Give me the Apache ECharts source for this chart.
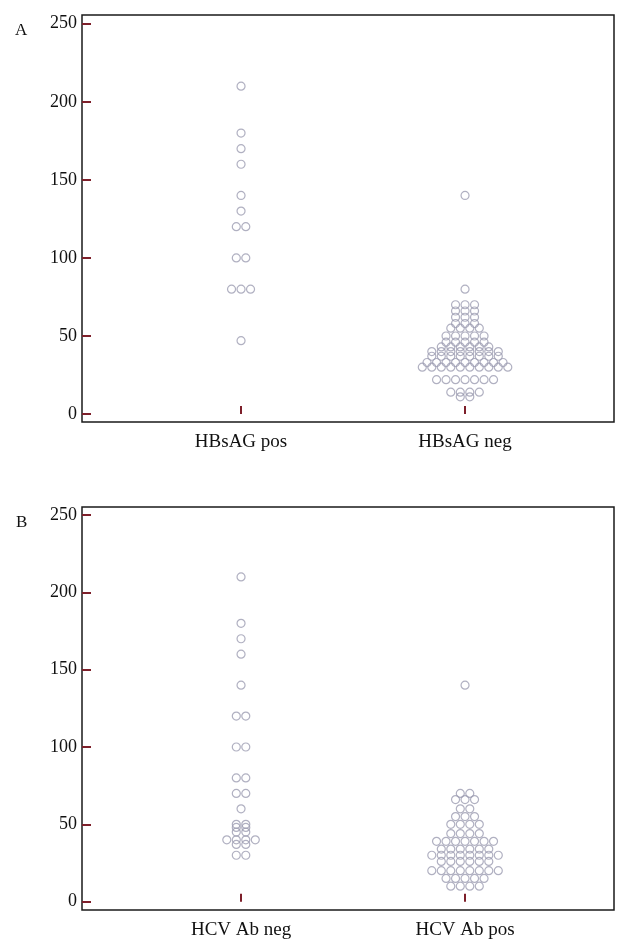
<!DOCTYPE html>
<html><head><meta charset="utf-8">
<script src="https://cdn.jsdelivr.net/npm/echarts@6/dist/echarts.min.js"></script>
<style>html,body{margin:0;padding:0;background:#fff}#c{width:619px;height:940px}</style>
</head><body><div id="c"></div>
<script>
const panelLabels = ['A', 'B'];
const catA = ['HBsAG pos', 'HBsAG neg'];
const catB = ['HCV Ab neg', 'HCV Ab pos'];
const yTicks = [0, 50, 100, 150, 200, 250];

// Panel A
const aPos = [210, 180, 170, 160, 140, 130, 120, 120, 100, 100, 80, 80, 80, 47];
const aNeg = [140, 80,
  70, 70, 70, 66, 66, 66, 62, 62, 62, 58, 58, 58,
  55, 55, 55, 55, 50, 50, 50, 50, 50, 46, 46, 46, 46, 46,
  43, 43, 43, 43, 43, 43,
  40, 40, 40, 40, 40, 40, 40, 40,
  37, 37, 37, 37, 37, 37, 37, 37,
  33, 33, 33, 33, 33, 33, 33, 33, 33,
  30, 30, 30, 30, 30, 30, 30, 30, 30, 30,
  22, 22, 22, 22, 22, 22, 22,
  14, 14, 14, 14, 11, 11];

// Panel B
const bNeg = [210, 180, 170, 160, 140, 120, 120, 100, 100, 80, 80, 70, 70, 60,
  50, 50, 48, 48, 45, 45, 40, 40, 40, 40, 37, 37, 30, 30];
const bPos = [140, 70, 70, 66, 66, 66, 60, 60, 55, 55, 55, 50, 50, 50, 50,
  44, 44, 44, 44,
  39, 39, 39, 39, 39, 39, 39,
  34, 34, 34, 34, 34, 34,
  30, 30, 30, 30, 30, 30, 30, 30,
  26, 26, 26, 26, 26, 26,
  20, 20, 20, 20, 20, 20, 20, 20,
  15, 15, 15, 15, 15,
  10, 10, 10, 10];

const X_MIN = 0.29, X_MAX = 2.665;
const GRID_W = 532;
const STEP = 9.5 * (X_MAX - X_MIN) / GRID_W; // ~9.5px between dot centres

// centred rows of equal values (dot plot)
function dotRows(vals, center) {
  const counts = {};
  vals.forEach(v => { counts[v] = (counts[v] || 0) + 1; });
  const out = [];
  Object.keys(counts).forEach(k => {
    const n = counts[k];
    for (let i = 0; i < n; i++) out.push([center + (i - (n - 1) / 2) * STEP, +k]);
  });
  return out;
}

const tickRed = '#7d1f2a';
const font = 'Liberation Serif';

function xAx(gi, cats) {
  return {
    type: 'value', gridIndex: gi, min: X_MIN, max: X_MAX,
    axisLine: { show: false },
    splitLine: { show: false },
    axisTick: { show: true, inside: true, length: 8, customValues: [1, 2], lineStyle: { color: tickRed, width: 2 } },
    axisLabel: { show: true, customValues: [1, 2], margin: 11, fontFamily: font, fontSize: 19, color: '#111',
      formatter: v => cats[Math.round(v) - 1] }
  };
}
function yAx(gi, mn, mx) {
  return {
    type: 'value', gridIndex: gi, min: mn, max: mx,
    axisLine: { show: false },
    splitLine: { show: false },
    axisTick: { show: true, inside: true, length: 9, customValues: yTicks, lineStyle: { color: tickRed, width: 2 } },
    axisLabel: { show: true, customValues: yTicks, margin: 5, fontFamily: font, fontSize: 18, color: '#111' }
  };
}
function sc(xi, data) {
  return {
    type: 'scatter', xAxisIndex: xi, yAxisIndex: xi, data: data,
    symbol: 'circle', symbolSize: 8, silent: true, clip: false,
    itemStyle: { color: 'rgba(0,0,0,0)', borderColor: '#9c9cb2', borderWidth: 1.2 }
  };
}

const chart = echarts.init(document.getElementById('c'), null, { renderer: 'canvas' });
chart.setOption({
  animation: false,
  backgroundColor: '#fff',
  title: [
    { text: panelLabels[0], left: 10, top: 17, textStyle: { fontFamily: font, fontSize: 17, fontWeight: 'normal', color: '#111' } },
    { text: panelLabels[1], left: 11, top: 509, textStyle: { fontFamily: font, fontSize: 17, fontWeight: 'normal', color: '#111' } }
  ],
  grid: [
    { left: 82, width: GRID_W, top: 15, height: 407, show: true, borderColor: '#1a1a1a', borderWidth: 1.5, backgroundColor: 'transparent' },
    { left: 82, width: GRID_W, top: 507, height: 405, show: true, borderColor: '#1a1a1a', borderWidth: 1.5, backgroundColor: 'transparent' }
  ],
  xAxis: [xAx(0, catA), xAx(1, catB)],
  yAxis: [yAx(0, -5.1, 255.6), yAx(1, -5.4, 255.2)],
  series: [
    sc(0, dotRows(aPos, 1)),
    sc(0, dotRows(aNeg, 2)),
    sc(1, dotRows(bNeg, 1)),
    sc(1, dotRows(bPos, 2))
  ]
});
</script>
</body></html>
